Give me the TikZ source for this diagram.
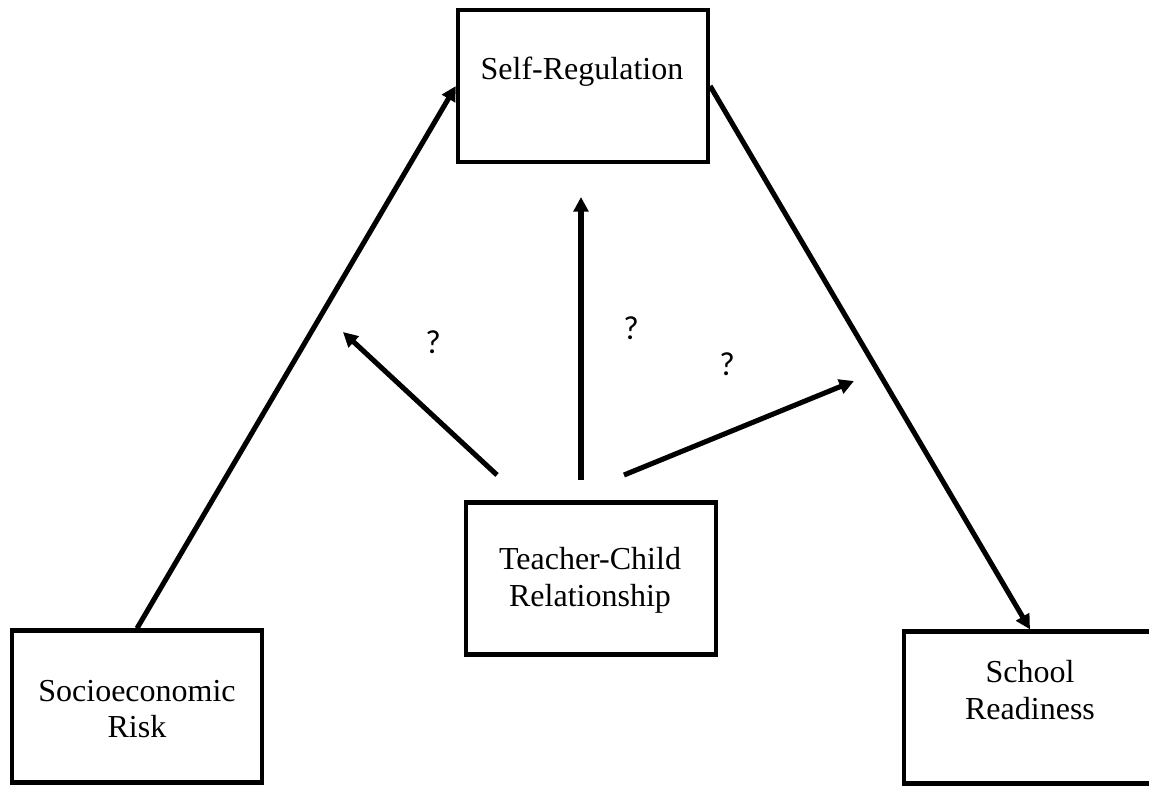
\documentclass[tikz,border=0pt]{standalone}
\usepackage{fontspec}
\setmainfont{Liberation Serif}
\newfontfamily\qfont{Carlito}
\usetikzlibrary{arrows.meta}
\begin{document}
\begin{tikzpicture}[x=0.75pt,y=-0.75pt,
  box/.style={draw, line width=3.2pt, minimum width=187.5pt, minimum height=114pt, inner sep=0pt},
  lbl/.style={align=center, inner sep=0pt, font=\fontsize{24pt}{27.5pt}\selectfont},
  qm/.style={inner sep=0pt, font=\qfont\fontsize{25pt}{28pt}\selectfont},
  link/.style={line width=3.8pt, -{Triangle[length=11pt,width=11pt]}}]
\clip (0,0) rectangle (1149,786);
\fill[white] (0,0) rectangle (1149,786);
% boxes
\node[box] (selfreg) at (583,86) {};
\node[box] (teacher) at (591,578.5) {};
\node[box] (socio) at (137,706.5) {};
\node[box, minimum width=189pt] (school) at (1030,707.5) {};
% texts
\node[lbl] (tsr) at (582,72) {Self-Regulation};
\node[lbl] (ttc) at (590,580) {Teacher-Child\\Relationship};
\node[lbl] (tso) at (137,709) {Socioeconomic\\Risk};
\node[lbl] (tsc) at (1030,690) {School\\Readiness};
% main paths
\draw[link] (socio.north) -- (selfreg.west);
\draw[link] (selfreg.east) -- (school.north);
% moderator arrows
\coordinate (m1s) at (497,475);
\coordinate (m1e) at (343,332);
\coordinate (m2s) at (581,480);
\coordinate (m2e) at (581,197);
\coordinate (m3s) at (624,475);
\coordinate (m3e) at (854,381);
\draw[link] (m1s) -- (m1e);
\draw[link] (m2s) -- (m2e);
\draw[link] (m3s) -- (m3e);
% question marks
\node[qm] (q1) at (433,342) {?};
\node[qm] (q2) at (631,328) {?};
\node[qm] (q3) at (727,364) {?};
\end{tikzpicture}
\end{document}
